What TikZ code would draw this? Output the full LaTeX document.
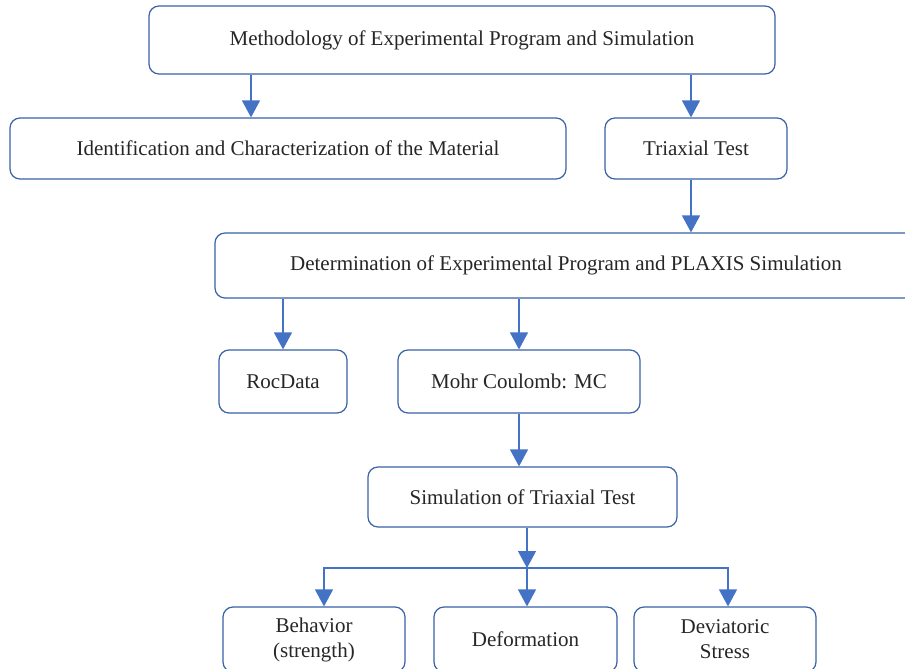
\documentclass[tikz,border=0pt]{standalone}
\usepackage{fontspec}
\setmainfont{Liberation Serif}
\usetikzlibrary{arrows.meta,positioning,calc}
\definecolor{boxblue}{HTML}{3A62A8}
\definecolor{lnkblue}{HTML}{4472C4}

\begin{document}
\begin{tikzpicture}[x=1pt,y=-1pt,
box/.style={draw=boxblue, line width=1.2pt, rounded corners=10pt, inner sep=0pt,
              align=center, font=\fontsize{21}{25}\selectfont, text=black!85},
lnk/.style={-{Triangle[length=17pt,width=18pt]}, draw=lnkblue, line width=1.3pt},
]
\useasboundingbox (0,0) rectangle (905,669);
\clip (0,0) rectangle (905,669);
\fill[white] (0,0) rectangle (905,669);
% boxes
\node[box, minimum width=626pt, minimum height=68pt] (meth) at (462,40) {Methodology of Experimental Program and Simulation};
\node[box, minimum width=556pt, minimum height=61pt] (ident) at (288,148.5) {Identification and Characterization of the Material};
\node[box, minimum width=182pt, minimum height=61pt] (tri) at (696,148.5) {Triaxial Test};
\node[box, minimum width=702pt, minimum height=65pt] (det) at (566,265.5) {Determination of Experimental Program and PLAXIS Simulation};
\node[box, minimum width=128pt, minimum height=63pt] (roc) at (283,381.5) {RocData};
\node[box, minimum width=242pt, minimum height=63pt] (mc) at (519,381.5) {Mohr Coulomb: MC};
\node[box, minimum width=309pt, minimum height=60pt] (sim) at (522.5,497) {Simulation of Triaxial Test};
\node[box, minimum width=182pt, minimum height=65pt] (behav) at (314,639.5) {Behavior\\(strength)};
\node[box, minimum width=183pt, minimum height=65pt] (deform) at (525.5,639.5) {Deformation};
\node[box, minimum width=182pt, minimum height=65pt] (devi) at (725,639.5) {Deviatoric\\Stress};
% entry points
\coordinate (identin) at ([xshift=-37pt]ident.north);
\coordinate (triin) at ([xshift=-5pt]tri.north);
\coordinate (fork) at (527,568);
\coordinate (behavin) at ([xshift=10pt]behav.north);
\coordinate (deviin) at ([xshift=3pt]devi.north);
% links
\draw[lnk] (identin |- meth.south) -- (identin);
\draw[lnk] (triin |- meth.south) -- (triin);
\draw[lnk] (triin |- tri.south) -- (triin |- det.north);
\draw[lnk] (roc.north |- det.south) -- (roc.north);
\draw[lnk] (mc.north |- det.south) -- (mc.north);
\draw[lnk] (mc.south) -- (mc.south |- sim.north);
\draw[lnk] (fork |- sim.south) -- (fork);
\draw[lnk] (fork) -| (behavin);
\draw[lnk] (fork) -| (deviin);
\draw[lnk] (fork) -- (fork |- deform.north);
\end{tikzpicture}
\end{document}
